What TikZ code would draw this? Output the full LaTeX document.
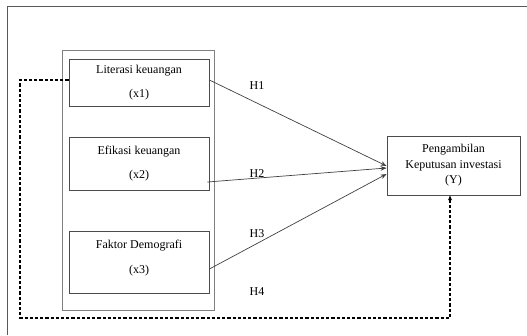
\documentclass[tikz,border=0pt]{standalone}
\usepackage{fontspec}
\setmainfont{Liberation Serif}
\definecolor{framegray}{gray}{0.35}
\definecolor{boxgray}{gray}{0.30}
\definecolor{groupgray}{gray}{0.50}
\definecolor{linkgray}{gray}{0.25}
\usetikzlibrary{arrows.meta,positioning,calc}
\tikzset{
  varbox/.style={draw=boxgray,line width=0.8pt,minimum width=140pt,align=center,inner sep=0pt},
  groupbox/.style={draw=groupgray,line width=0.9pt,minimum width=152pt,minimum height=260pt},
  outbox/.style={draw=boxgray,line width=0.8pt,minimum width=133pt,minimum height=59pt,align=center,inner sep=0pt},
  hlink/.style={-{Stealth[length=6pt,width=4.5pt]},linkgray,line width=0.7pt},
  dashlink/.style={-{Stealth[length=5pt,width=4pt]},black,line width=1.1pt,dash pattern=on 3.2pt off 2pt},
  hlab/.style={font=\fontsize{12}{13.5}\selectfont},
}
\begin{document}
\begin{tikzpicture}[x=1pt,y=-1pt,font=\fontsize{12}{13.5}\selectfont]
        \useasboundingbox (0,0) rectangle (527,335);
        % bingkai gambar
        \draw[framegray,line width=0.8pt] (7,335) -- (7,6) -- (527,6);
        % kotak variabel bebas
        \node[groupbox] (grp) at (138,180) {};
        \node[varbox,minimum height=47pt] (x1) at (139,82.5) {Literasi keuangan\\[11pt](x1)};
        \node[varbox,minimum height=53pt] (x2) at (139,163.5) {Efikasi keuangan\\[11pt](x2)};
        \node[varbox,minimum height=62pt] (x3) at (139,262) {Faktor Demografi\\[11pt](x3)\\[-3.5pt]};
        % variabel terikat
        \node[outbox] (y) at (453.5,165.5) {Pengambilan\\[2pt]Keputusan investasi\\[2pt](Y)};
        % hipotesis
        \draw[hlink] ([yshift=2.5pt]x1.east) -- ([yshift=-0.5pt]y.west);
        \draw[hlink] ([xshift=-2pt,yshift=-18.5pt]x2.east) -- ([yshift=-2.5pt]y.west);
        \draw[hlink] ([yshift=-7pt]x3.east) -- ([yshift=-8.5pt]y.west);
        \node[hlab] (h1) at (257,86) {H1};
        \node[hlab] (h2) at (257,174) {H2};
        \node[hlab] (h3) at (257,234) {H3};
        \node[hlab] (h4) at (257,292) {H4};
        % jalur H4 (putus-putus)
        \coordinate (loopL) at (20,318);
        \draw[dashlink] ([yshift=2.5pt]x1.west) -| (loopL) -| ([xshift=-3.5pt]y.south);
      \end{tikzpicture}
\end{document}
